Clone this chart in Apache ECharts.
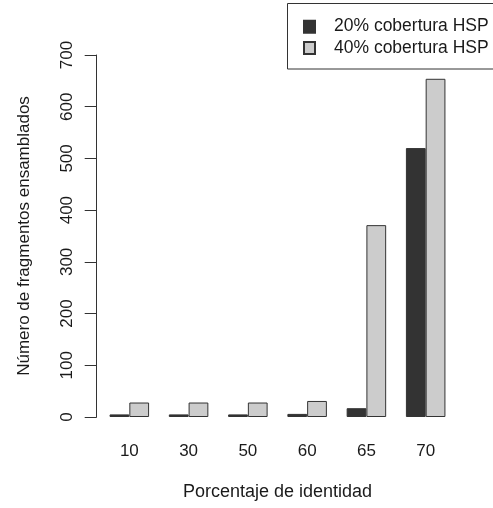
<!DOCTYPE html>
<html>
<head>
<meta charset="utf-8">
<script src="https://cdn.jsdelivr.net/npm/echarts@6/dist/echarts.min.js"></script>
<style>
html,body{margin:0;padding:0;background:#fff;}
#chart{width:493px;height:508px;}
</style>
</head>
<body>
<div id="chart"></div>
<script>
const categories = ['10', '30', '50', '60', '65', '70'];
const cov20 = [5, 5, 5, 6, 17, 520];
const cov40 = [28, 28, 28, 31, 371, 654];
const seriesNames = ['20% cobertura HSP', '40% cobertura HSP'];
const yTicks = [0, 100, 200, 300, 400, 500, 600, 700];

const FONT = '"Liberation Sans", Arial, Helvetica, sans-serif';
const TXT = '#1a1a1a';
const chart = echarts.init(document.getElementById('chart'), null, {renderer: 'canvas'});
chart.setOption({
  animation: false,
  backgroundColor: '#ffffff',
  textStyle: {fontFamily: FONT, color: TXT},
  grid: {left: 99.7, width: 355.6, top: 55, height: 362, containLabel: false},
  legend: {
    data: seriesNames,
    orient: 'vertical',
    left: 303,
    top: 16,
    padding: 0,
    icon: 'rect',
    itemWidth: 11,
    itemHeight: 12,
    itemGap: 0,
    textStyle: {fontFamily: FONT, fontSize: 17.5, color: TXT, lineHeight: 21.3, padding: [0, 0, 0, 14]}
  },
  graphic: [{
    type: 'rect',
    shape: {x: 287.5, y: 3.5, width: 230, height: 65.5},
    style: {fill: 'none', stroke: '#333', lineWidth: 1},
    silent: true,
    z: 10
  }],
  xAxis: {
    type: 'category',
    data: categories,
    axisLine: {show: false},
    axisTick: {show: false},
    axisLabel: {fontFamily: FONT, fontSize: 17, color: TXT, margin: 26},
    name: 'Porcentaje de identidad',
    nameLocation: 'middle',
    nameGap: 66,
    nameTextStyle: {fontFamily: FONT, fontSize: 18, color: TXT}
  },
  yAxis: {
    type: 'value',
    min: yTicks[0],
    max: yTicks[yTicks.length - 1],
    interval: 100,
    offset: 3,
    axisLine: {show: true, lineStyle: {color: '#333', width: 1}},
    axisTick: {show: true, length: 12, lineStyle: {color: '#333', width: 1}},
    splitLine: {show: false},
    axisLabel: {fontFamily: FONT, fontSize: 17, color: TXT, rotate: 90, margin: 21},
    name: 'Número de fragmentos ensamblados',
    nameLocation: 'middle',
    nameGap: 64,
    nameTextStyle: {fontFamily: FONT, fontSize: 17, color: TXT}
  },
  series: [
    {
      name: seriesNames[0], type: 'bar', data: cov20,
      barGap: '0%', barCategoryGap: '33.33%',
      itemStyle: {color: '#333333', borderColor: '#333', borderWidth: 1}
    },
    {
      name: seriesNames[1], type: 'bar', data: cov40,
      barGap: '0%', barCategoryGap: '33.33%',
      itemStyle: {color: '#cccccc', borderColor: '#333', borderWidth: 1}
    }
  ]
});
</script>
</body>
</html>
